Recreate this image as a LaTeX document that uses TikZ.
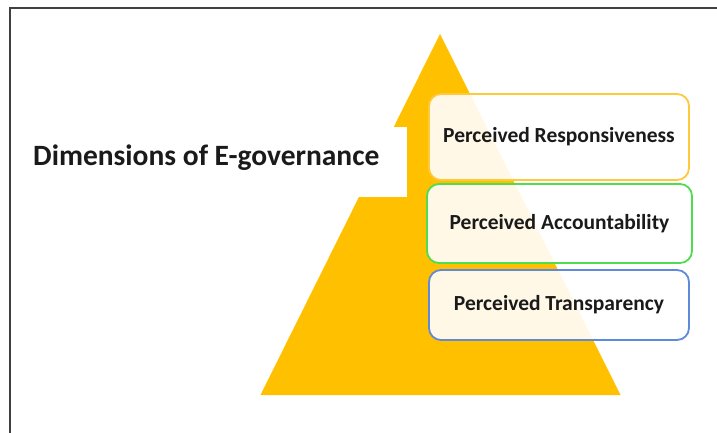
\documentclass[tikz,border=0pt]{standalone}
\usepackage{fontspec}
\setmainfont{Carlito}
\definecolor{gold}{HTML}{FFC000}
\definecolor{goldline}{HTML}{FFC93C}
\definecolor{greenline}{HTML}{4FDC4F}
\definecolor{blueline}{HTML}{5F8AD8}
\definecolor{frameline}{HTML}{404040}
\definecolor{ink}{HTML}{1A1A1A}
\tikzset{
  dimbox/.style={draw, line width=1.8pt, rounded corners=12pt, fill=white,
    fill opacity=0.9, text opacity=1, text=ink, align=center,
    font=\fontsize{21.5}{25}\selectfont\bfseries, inner sep=0pt},
}
\begin{document}
\begin{tikzpicture}[x=1pt,y=-1pt]
\useasboundingbox (0,0) rectangle (717,433);
% outer frame (top and left edges)
\draw[frameline, line width=2pt] (10,433) -- (10,8) -- (717,8);
% pyramid
\fill[gold] (440,34) -- (620.5,395) -- (260.5,395) -- cycle;
% title area
\fill[white] (340,127) rectangle (407,197);
\node[anchor=base west, inner sep=0pt, text=ink,
  font=\fontsize{29.5}{35}\selectfont\bfseries] (title) at (33,165) {Dimensions of E-governance};
% dimension boxes
\node[dimbox, draw=goldline, minimum width=260pt, minimum height=86pt] (resp) at (559,137) {Perceived Responsiveness};
\node[dimbox, draw=greenline, minimum width=265pt, minimum height=79pt] (acc) at (559.5,223.5) {Perceived Accountability};
\node[dimbox, draw=blueline, minimum width=260pt, minimum height=70pt] (trans) at (559,305) {Perceived Transparency};
\end{tikzpicture}
\end{document}
